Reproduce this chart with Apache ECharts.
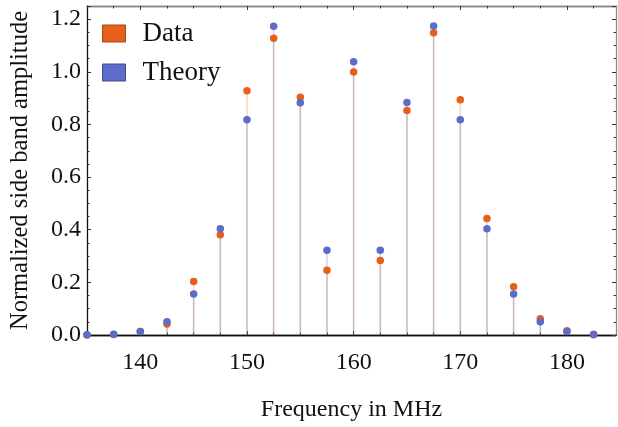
<!DOCTYPE html>
<html><head><meta charset="utf-8">
<script src="https://cdn.jsdelivr.net/npm/echarts@6/dist/echarts.min.js"></script>
<style>html,body{margin:0;padding:0;background:#fff}#c{width:618px;height:427px}</style>
</head><body><div id="c"></div>
<script>
const freqs = [135,137.5,140,142.5,145,147.5,150,152.5,155,157.5,160,162.5,165,167.5,170,172.5,175,177.5,180,182.5];
const dataVals = [0.0,0.002,0.013,0.042,0.203,0.381,0.928,1.127,0.903,0.246,0.999,0.283,0.853,1.148,0.894,0.443,0.183,0.062,0.016,0.003];
const theoryVals = [0.001,0.003,0.013,0.050,0.156,0.404,0.818,1.173,0.882,0.322,1.038,0.322,0.883,1.174,0.818,0.404,0.156,0.050,0.013,0.001];
const xMajorTicks = [140,150,160,170,180];
const xMinorTicks = [135,137.5,142.5,145,147.5,152.5,155,157.5,162.5,165,167.5,172.5,175,177.5,182.5];

const F = 'Liberation Serif';
const cData = '#E5601A', cTheory = '#5C6CC8';
const xr = {min:135, max:184.6};
const pair = (xs, ys) => xs.map((x,i)=>[x, ys[i]]);

function xAx(pos, custom, len, labels, frameColor, extra){
  return Object.assign({type:'value', position:pos, min:xr.min, max:xr.max,
    axisLine:{show:true, onZero:false, lineStyle:{color:frameColor, width:1.3}},
    axisTick:{show:true, inside:true, length:len, customValues:custom, lineStyle:{color:'#333', width:1}},
    axisLabel:{show:labels, customValues:custom, fontFamily:F, fontSize:24, color:'#111', margin:16},
    splitLine:{show:false}}, extra||{});
}
const chart = echarts.init(document.getElementById('c'));
chart.setOption({
  animation:false,
  grid:{left:87, right:2, top:6, bottom:91},
  legend:{data:[
      {name:'Data', itemStyle:{color:cData, borderColor:'#A84516', borderWidth:1}},
      {name:'Theory', itemStyle:{color:cTheory, borderColor:'#3F4B94', borderWidth:1}}],
    orient:'vertical', left:102, top:20, padding:0, icon:'rect',
    itemWidth:23, itemHeight:17, itemGap:12,
    textStyle:{fontFamily:F, fontSize:27, color:'#111', padding:[0,0,0,12]}},
  xAxis:[
    xAx('bottom', xMajorTicks, 4, true, '#111', {name:'Frequency in MHz', nameLocation:'middle', nameGap:63,
      nameTextStyle:{fontFamily:F, fontSize:24, color:'#111'}}),
    xAx('bottom', xMinorTicks, 2.5, false, '#111'),
    xAx('top', xMajorTicks, 4, false, '#888'),
    xAx('top', xMinorTicks, 2.5, false, '#888')
  ],
  yAxis:[
    {type:'value', min:0, max:1.25, interval:0.2, position:'left',
      axisLine:{show:true, lineStyle:{color:'#111', width:1.3}},
      axisTick:{show:true, inside:true, length:4, lineStyle:{color:'#333'}},
      minorTick:{show:true, splitNumber:4, length:2.5, lineStyle:{color:'#333'}},
      axisLabel:{fontFamily:F, fontSize:24, color:'#111', margin:6, formatter:v=>v.toFixed(1)},
      splitLine:{show:false}, minorSplitLine:{show:false},
      name:'Normalized side band amplitude', nameLocation:'middle', nameGap:54,
      nameTextStyle:{fontFamily:F, fontSize:24.5, color:'#111'}},
    {type:'value', min:0, max:1.25, interval:0.2, position:'right',
      axisLine:{show:true, lineStyle:{color:'#888', width:1.3}},
      axisTick:{show:true, inside:true, length:4, lineStyle:{color:'#333'}},
      minorTick:{show:true, splitNumber:4, length:2.5, lineStyle:{color:'#333'}},
      axisLabel:{show:false}, splitLine:{show:false}, minorSplitLine:{show:false}}
  ],
  series:[
    {name:'DataStem', type:'bar', barWidth:1.6, barGap:'-100%', data:pair(freqs,dataVals),
      itemStyle:{color:'rgba(229,96,26,0.25)'}, silent:true, z:1},
    {name:'TheoryStem', type:'bar', barWidth:1.6, barGap:'-100%', data:pair(freqs,theoryVals),
      itemStyle:{color:'rgba(92,108,200,0.27)'}, silent:true, z:1},
    {name:'Data', type:'scatter', symbol:'circle', symbolSize:7.5, data:pair(freqs,dataVals),
      itemStyle:{color:cData, opacity:1, borderWidth:0}, z:3},
    {name:'Theory', type:'scatter', symbol:'circle', symbolSize:7.5, data:pair(freqs,theoryVals),
      itemStyle:{color:cTheory, opacity:1, borderWidth:0}, z:4}
  ]
});
</script></body></html>
